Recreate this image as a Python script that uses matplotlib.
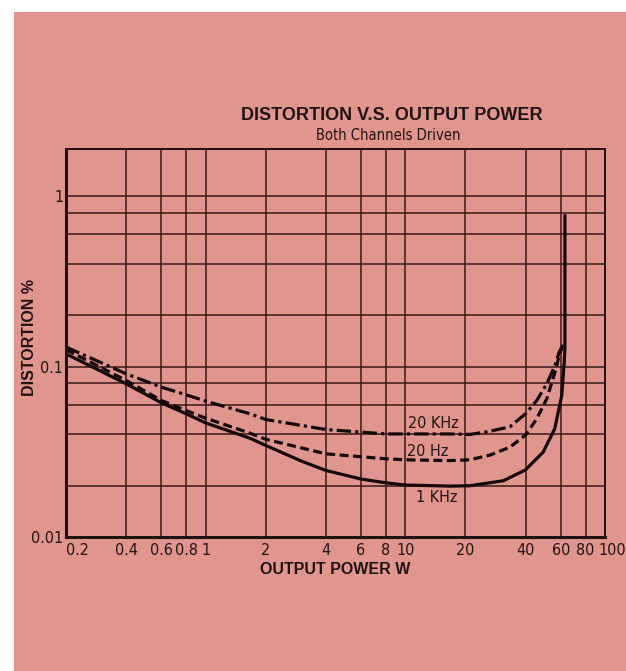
import matplotlib.pyplot as plt
from matplotlib.patches import Rectangle

# output power (W) / distortion (%)
khz1_x = [0.2, 0.4, 0.6, 0.8, 1, 1.67, 2, 3, 4, 6, 8, 10, 16.7, 21, 31, 40, 49, 56, 60.7, 62.5, 63, 63]
khz1_y = [0.119, 0.0794, 0.0614, 0.0529, 0.0468, 0.038, 0.0345, 0.028, 0.0246, 0.0219, 0.0208, 0.0202,
          0.0199, 0.0200, 0.0214, 0.0248, 0.0315, 0.0432, 0.0678, 0.1066, 0.128, 0.77]

hz20_x = [0.2, 0.4, 0.6, 0.8, 1, 1.67, 2, 4, 6, 8, 10, 16.7, 21, 26.6, 33.4, 40, 45.5, 51.1, 56.2, 59, 60.7, 63]
hz20_y = [0.126, 0.0831, 0.0634, 0.0553, 0.0499, 0.0407, 0.0375, 0.0308, 0.0296, 0.0288, 0.0284, 0.0281,
          0.0284, 0.0303, 0.0337, 0.0397, 0.0494, 0.0648, 0.093, 0.1166, 0.128, 0.14]

khz20_x = [0.2, 0.4, 0.6, 0.8, 1, 1.67, 2, 4, 6, 8, 10, 16.7, 21, 26.6, 33.4, 40, 45.5, 51.1, 56.2, 59, 60.7, 63]
khz20_y = [0.1305, 0.0909, 0.0759, 0.0684, 0.0628, 0.0529, 0.049, 0.0428, 0.0413, 0.0403, 0.0403, 0.0403,
           0.040, 0.0418, 0.0444, 0.0529, 0.0633, 0.0794, 0.1017, 0.122, 0.130, 0.14]

x_ticks = [0.2, 0.4, 0.6, 0.8, 1, 2, 4, 6, 8, 10, 20, 40, 60, 80, 100]
x_labels = ["0.2", "0.4", "0.6", "0.8", "1", "2", "4", "6", "8", "10", "20", "40", "60", "80", "100"]
y_ticks = [0.01, 0.1, 1]
y_labels = ["0.01", "0.1", "1"]
y_minor = [0.02, 0.04, 0.06, 0.08, 0.2, 0.4, 0.6, 0.8]

pink = '#e0958f'
ink = '#221212'
grid_col = '#3a1818'
bold = ['Liberation Sans', 'DejaVu Sans']
lab = dict(family='DejaVu Sans', stretch='condensed', fontsize=11.5, color=ink)

fig = plt.figure(figsize=(6.26, 6.71), dpi=100)
fig.patch.set_facecolor('white')
fig.patches.append(Rectangle((14 / 626, 0), 1, 1 - 12 / 671, transform=fig.transFigure,
                             facecolor=pink, edgecolor='none', zorder=-10))

ax = fig.add_axes([66 / 626, 1 - 537 / 671, (605 - 66) / 626, (537 - 149) / 671])
ax.set_facecolor('none')
ax.set_xscale('log')
ax.set_yscale('log')
ax.set_xlim(0.2, 100)
ax.set_ylim(0.01, 1.9)

ax.set_xticks(x_ticks)
ax.set_xticklabels(x_labels[:-1] + [""], **lab)
ax.xaxis.set_minor_locator(plt.NullLocator())
ax.set_yticks(y_ticks)
ax.set_yticklabels(y_labels, **lab)
ax.set_yticks(y_minor, minor=True)
ax.yaxis.set_minor_formatter(plt.NullFormatter())
ax.tick_params(which='both', length=0, pad=4)
ax.tick_params(axis='y', pad=2)
xl = ax.get_xticklabels()
xl[0].set_ha('left')
# last label nudged so it stays inside the page
ax.annotate(x_labels[-1], xy=(x_ticks[-1], 0), xycoords=('data', 'axes fraction'),
            xytext=(-5, -4), textcoords='offset points', ha='left', va='top', **lab)

ax.grid(True, which='both', color=grid_col, lw=1.1)
for s in ['left', 'bottom']:
    ax.spines[s].set_linewidth(2.2)
for s in ['top', 'right']:
    ax.spines[s].set_linewidth(1.4)
for s in ax.spines.values():
    s.set_color(ink)

ax.plot(khz1_x, khz1_y, color='#140808', lw=2.3, solid_joinstyle='round')
ax.plot(hz20_x, hz20_y, color='#140808', lw=2.3, ls=(0, (2.8, 1.4)))
ax.plot(khz20_x, khz20_y, color='#140808', lw=2.3, ls=(0, (4.5, 1.3, 1.0, 1.3)))

ax.text(13.8, 0.0462, "20 KHz", ha='center', va='center', **lab)
ax.text(13.0, 0.0316, "20 Hz", ha='center', va='center', **lab)
ax.text(14.3, 0.0170, "1 KHz", ha='center', va='center', **lab)

fig.text(392 / 626, 1 - 116 / 671, "DISTORTION V.S. OUTPUT POWER", family=bold, weight='bold',
         fontsize=13, color=ink, ha='center', va='center')
fig.text(388 / 626, 1 - 135 / 671, "Both Channels Driven", family='DejaVu Sans', stretch='condensed',
         fontsize=10.5, color=ink, ha='center', va='center')
fig.text(30 / 626, 1 - 337 / 671, "DISTORTION %", family=bold, weight='bold', fontsize=11.5,
         color=ink, ha='center', va='center', rotation=90)
fig.text(335 / 626, 1 - 569 / 671, "OUTPUT POWER W", family=bold, weight='bold', fontsize=11.5,
         color=ink, ha='center', va='center')

fig.savefig('out.png', dpi=100, facecolor=fig.get_facecolor())
